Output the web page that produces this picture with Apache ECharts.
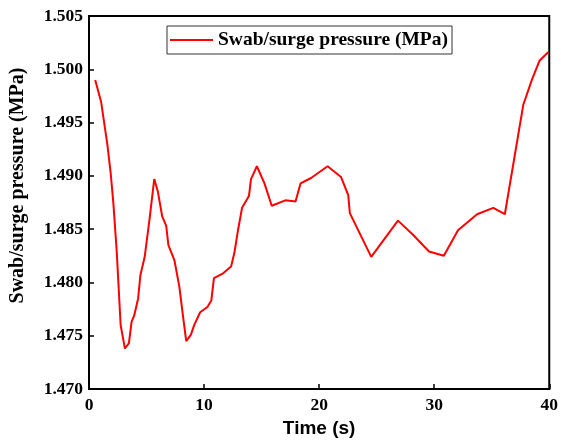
<!DOCTYPE html>
<html>
<head>
<meta charset="utf-8">
<script src="https://cdn.jsdelivr.net/npm/echarts@6/dist/echarts.min.js"></script>
<style>html,body{margin:0;padding:0;background:#fff;}#c{width:561px;height:447px;}</style>
</head>
<body>
<div id="c"></div>
<script>
var seriesName = 'Swab/surge pressure (MPa)';
var timeValues = [0.54,1.06,1.6,1.89,2.12,2.41,2.75,3.12,3.47,3.7,3.93,4.27,4.47,4.84,5.27,5.67,5.99,6.36,6.71,6.9,7.42,7.85,8.14,8.45,8.86,9.14,9.66,10.29,10.63,10.86,11.58,12.35,12.64,12.95,13.3,13.9,14.08,14.59,15.25,15.88,17.06,17.95,18.39,19.3,20.74,21.9,22.53,22.67,24.53,26.85,28.14,29.55,30.84,32.07,33.73,35.14,36.14,37.75,38.52,39.15,39.9];
var pressureValues = [1.4990,1.4969,1.4929,1.4902,1.4874,1.4829,1.4760,1.4738,1.4743,1.4763,1.4769,1.4785,1.4807,1.4824,1.4860,1.4897,1.4885,1.4862,1.4853,1.4835,1.4821,1.4796,1.4771,1.4745,1.4751,1.4760,1.4772,1.4777,1.4783,1.4804,1.4808,1.4815,1.4828,1.4849,1.4870,1.4881,1.4897,1.4909,1.4893,1.4872,1.4877,1.4876,1.4893,1.4898,1.4909,1.4899,1.4882,1.4865,1.4824,1.4858,1.4845,1.4829,1.4825,1.4849,1.4864,1.4870,1.4864,1.4967,1.4991,1.5008,1.5016];
var xTicks = [0,10,20,30,40];
var yTicks = [1.470,1.475,1.480,1.485,1.490,1.495,1.500,1.505];

var data = timeValues.map(function(t,i){return [t, pressureValues[i]];});
var serif = '"Liberation Serif","Times New Roman",serif';
var chart = echarts.init(document.getElementById('c'), null, {renderer:'canvas'});
chart.setOption({
  animation:false,
  backgroundColor:'#fff',
  grid:{left:87,right:10,top:16,bottom:58,show:true,borderColor:'#000',borderWidth:2,backgroundColor:'transparent'},
  legend:{
    left:167, top:26,
    data:[seriesName],
    icon:'rect', itemWidth:43, itemHeight:2, itemGap:5,
    borderColor:'#333', borderWidth:1, borderRadius:0,
    padding:[4,4,4,3],
    textStyle:{fontFamily:serif,fontWeight:'bold',fontSize:19.5,color:'#000'}
  },
  xAxis:{
    type:'value', min:xTicks[0], max:xTicks[xTicks.length-1], interval:10,
    name:'Time (s)', nameLocation:'middle', nameGap:25,
    nameTextStyle:{fontFamily:'"Liberation Sans",Arial,sans-serif',fontWeight:'bold',fontSize:19,color:'#000'},
    axisLine:{show:true,lineStyle:{color:'#000',width:2}},
    axisTick:{show:true,inside:true,length:5,lineStyle:{color:'#000',width:1.5}},
    axisLabel:{fontFamily:serif,fontWeight:'bold',fontSize:17.5,color:'#000',margin:7},
    splitLine:{show:false}
  },
  yAxis:{
    type:'value', min:yTicks[0], max:yTicks[yTicks.length-1], interval:0.005,
    name:seriesName, nameLocation:'middle', nameGap:61, nameRotate:90,
    nameTextStyle:{fontFamily:serif,fontWeight:'bold',fontSize:20,color:'#000',padding:[0,0,0,34]},
    axisLine:{show:true,lineStyle:{color:'#000',width:2}},
    axisTick:{show:true,inside:true,length:5,lineStyle:{color:'#000',width:1.5}},
    axisLabel:{fontFamily:serif,fontWeight:'bold',fontSize:17.5,color:'#000',margin:6,
      formatter:function(v){return v.toFixed(3);}},
    splitLine:{show:false}
  },
  series:[{
    name:seriesName, type:'line', data:data, symbol:'none', smooth:false,
    lineStyle:{color:'#ff0000',width:2}, itemStyle:{color:'#ff0000'}
  }]
});
</script>
</body>
</html>
